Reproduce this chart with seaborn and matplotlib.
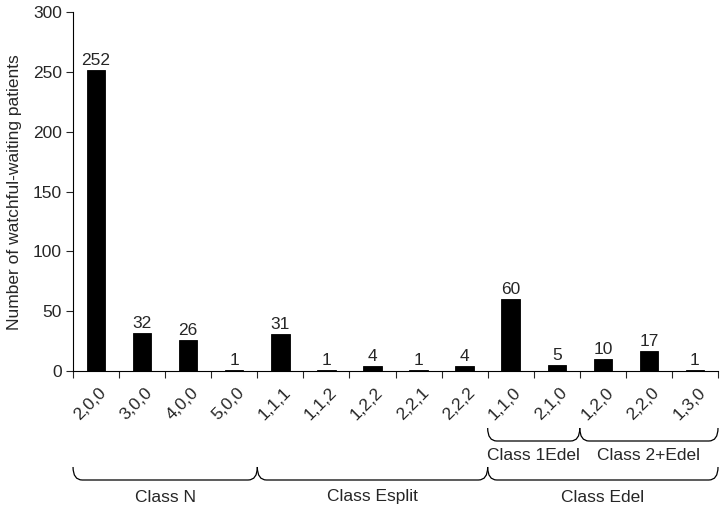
import matplotlib
matplotlib.use("Agg")
import matplotlib.pyplot as plt
import matplotlib.transforms as mtransforms
from matplotlib.path import Path
from matplotlib.patches import PathPatch
import seaborn as sns
import pandas as pd

categories = ["2,0,0", "3,0,0", "4,0,0", "5,0,0", "1,1,1", "1,1,2", "1,2,2",
              "2,2,1", "2,2,2", "1,1,0", "2,1,0", "1,2,0", "2,2,0", "1,3,0"]
values = [252, 32, 26, 1, 31, 1, 4, 1, 4, 60, 5, 10, 17, 1]
y_ticks = [0, 50, 100, 150, 200, 250, 300]
y_label = "Number of watchful-waiting patients"
# group labels with (start index, end index) of the categories they span
groups_main = [("Class N", 0, 3), ("Class Esplit", 4, 8), ("Class Edel", 9, 13)]
groups_sub = [("Class 1Edel", 9, 10), ("Class 2+Edel", 11, 13)]

FS = 12.5

sns.set_style("white")
plt.rcParams["font.family"] = ["Liberation Sans", "DejaVu Sans"]

fig = plt.figure(figsize=(7.26, 5.09), dpi=100)
ax = fig.add_axes([0.1006, 0.271, 0.8884, 0.705])

df = pd.DataFrame({"cat": categories, "val": values})
sns.barplot(data=df, x="cat", y="val", color="black", width=0.4,
            saturation=1, ax=ax, order=categories)
for p in ax.patches:
    p.set_edgecolor("black")
    p.set_linewidth(0.6)

for i, v in enumerate(values):
    ax.text(i, v + 1.5, str(v), ha="center", va="bottom", fontsize=FS)

ax.set_xlim(-0.5, len(categories) - 0.5)
ax.set_ylim(0, 300)
ax.set_yticks(y_ticks)
ax.tick_params(axis="y", labelsize=FS, length=5, width=0.8, direction="out", left=True, pad=3)
ax.set_ylabel(y_label, fontsize=FS, labelpad=8)
ax.set_xlabel("")

ax.set_xticks(range(len(categories)))
ax.set_xticklabels(categories, rotation=45, ha="right", va="top",
                   rotation_mode="anchor", fontsize=FS)
ax.tick_params(axis="x", which="major", length=0, pad=10)
ax.set_xticks([i - 0.5 for i in range(len(categories) + 1)], minor=True)
ax.tick_params(axis="x", which="minor", length=5, width=0.8, direction="out", bottom=True)
for lab in ax.get_xticklabels():
    lab.set_transform(lab.get_transform() + mtransforms.ScaledTranslation(2 / 72, 0, fig.dpi_scale_trans))

for s in ["top", "right"]:
    ax.spines[s].set_visible(False)
for s in ["left", "bottom"]:
    ax.spines[s].set_color("black")
    ax.spines[s].set_linewidth(0.8)

trans = mtransforms.blended_transform_factory(ax.transData, fig.transFigure)
H = 509.0


def bracket(x0, x1, ytop_px, ybot_px, label, label_px):
    yt = 1 - ytop_px / H
    yb = 1 - ybot_px / H
    r = 0.2
    verts = [(x0, yt), (x0, yb), (x0 + r, yb), (x1 - r, yb), (x1, yb), (x1, yt)]
    codes = [Path.MOVETO, Path.CURVE3, Path.CURVE3, Path.LINETO, Path.CURVE3, Path.CURVE3]
    patch = PathPatch(Path(verts, codes), transform=trans, fill=False,
                      edgecolor="black", linewidth=0.9, clip_on=False)
    fig.add_artist(patch)
    t = fig.text(0, 0, label, transform=trans, fontsize=FS, ha="center", va="center")
    t.set_position(((x0 + x1) / 2, 1 - label_px / H))


for name, a, b in groups_main:
    bracket(a - 0.5, b + 0.5, 467, 480, name, 497)
for name, a, b in groups_sub:
    bracket(a - 0.5, b + 0.5, 428, 441, name, 456)

fig.savefig("out.png", dpi=100)
